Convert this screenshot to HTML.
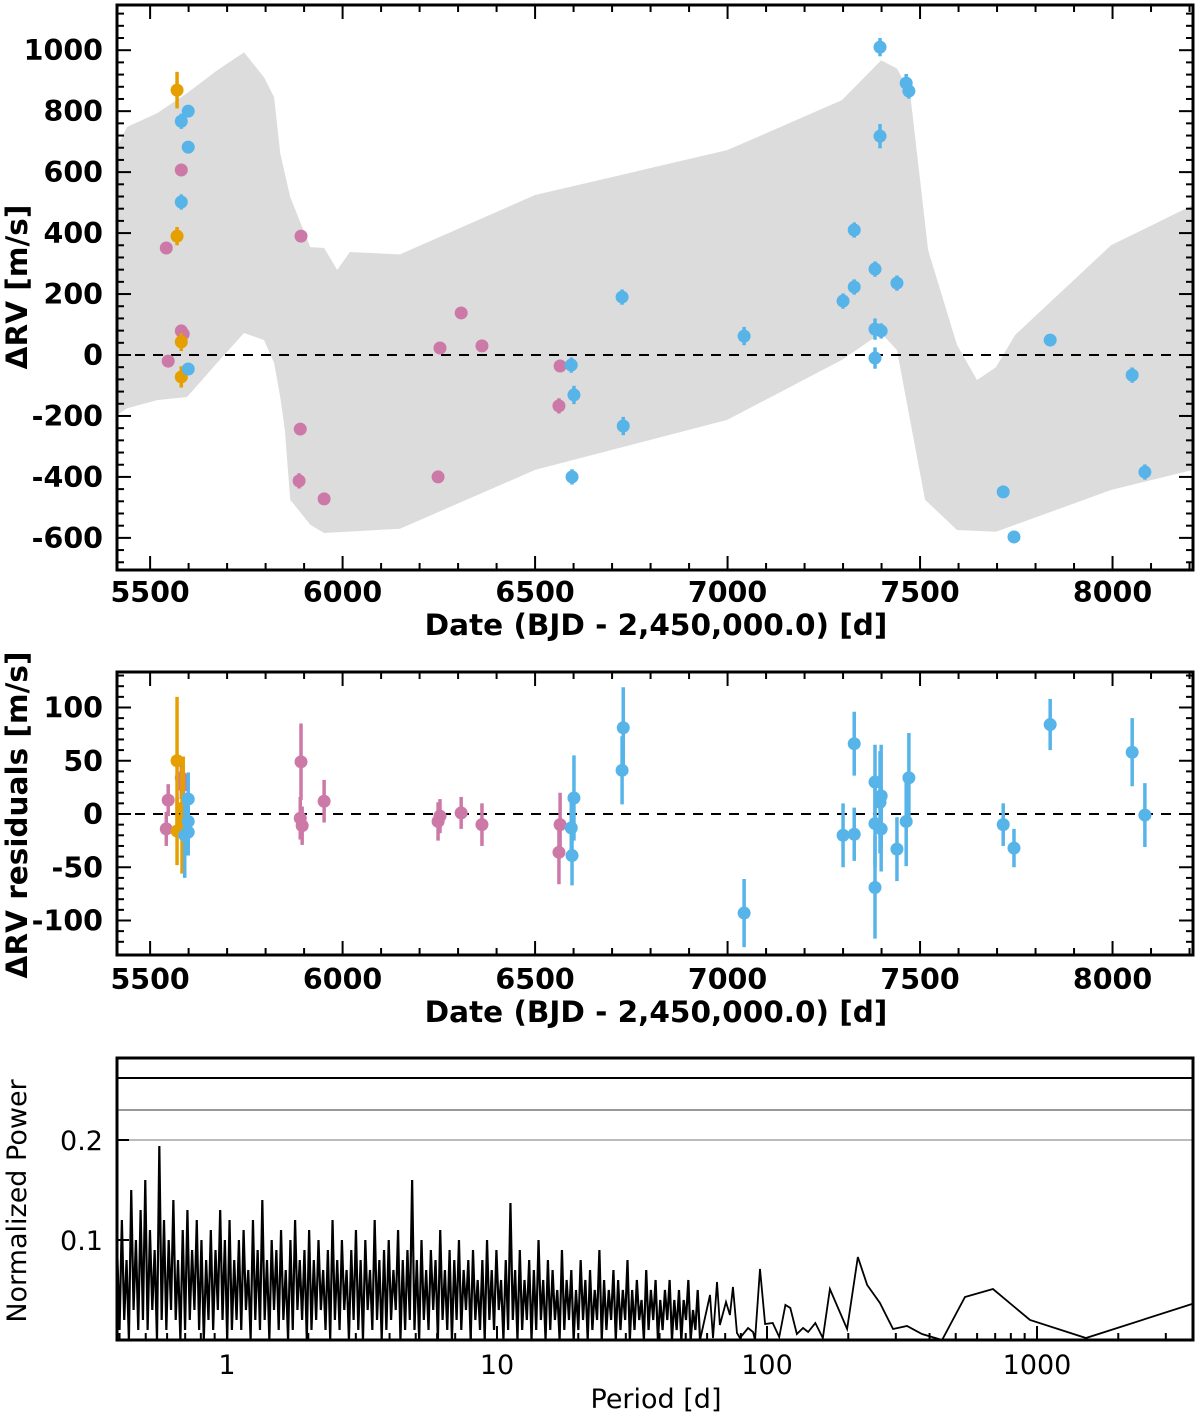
<!DOCTYPE html>
<html><head><meta charset="utf-8"><style>
html,body{margin:0;padding:0;background:#fff;}
svg{display:block;}
.tk{font-family:"DejaVu Sans","Liberation Sans",sans-serif;font-weight:bold;font-size:28.5px;fill:#000;}
.tt{font-family:"DejaVu Sans","Liberation Sans",sans-serif;font-weight:bold;font-size:29.5px;fill:#000;}
.tr{font-family:"DejaVu Sans","Liberation Sans",sans-serif;font-size:27px;fill:#000;}
</style></head><body>
<svg id="chart" width="1200" height="1422" viewBox="0 0 1200 1422" xmlns="http://www.w3.org/2000/svg">
<g id="p1"></g>
<g id="p2"></g>
<g id="p3"></g>
</svg>
<script>
// ---- Panel 1 data ----
const bandUpperDates=[5414,5440,5518,5596,5674,5744,5796,5822,5838,5864,5916,5952,5986,6019,6149,6500,6999,7297,7399,7440,7474,7521,7596,7648,7697,7747,7996,8209];
const bandUpperVals=[682,748,793,859,934,993,911,846,662,518,354,351,279,338,330,525,672,836,967,940,860,344,33,-82,-40,66,360,492];
const bandLowerDates=[5414,5440,5518,5596,5674,5744,5796,5822,5838,5850,5864,5916,5952,6149,6500,6999,7297,7399,7440,7474,7513,7596,7697,7996,8209];
const bandLowerVals=[-197,-175,-148,-138,-26,72,49,-26,-138,-246,-475,-557,-584,-570,-377,-213,-16,72,16,-213,-475,-574,-580,-443,-377];
const orangeDates=[5570,5570,5581,5581];
const orangeVals=[869,390,43,-72];
const orangeErr=[60,30,30,35];
const blueDates=[5581,5599,5599,5581,5599,6594,6601,6596,6726,6729,7043,7300,7329,7329,7383,7383,7383,7399,7396,7396,7440,7464,7471,7716,7744,7838,8051,8084];
const blueVals=[767,800,682,502,-46,-33,-131,-400,190,-233,62,177,410,223,282,85,-10,79,1010,718,236,892,866,-449,-597,49,-66,-384];
const blueErr=[25,15,20,25,15,25,30,25,25,30,30,25,25,25,25,35,35,25,30,40,25,30,25,15,10,20,25,25];
const pinkDates=[5581,5542,5581,5586,5547,5892,5890,5887,5952,6248,6253,6308,6362,6565,6562];
const pinkVals=[607,351,79,69,-20,390,-243,-413,-472,-400,23,138,30,-36,-167];
const pinkErr=[20,10,10,10,10,10,15,25,10,10,10,10,10,20,25];
// ---- Panel 2 data ----
const resOrangeDates=[5570,5586,5583,5570];
const resOrangeVals=[50,6,-6,-16];
const resOrangeErr=[60,48,50,32];
const resPinkDates=[5542,5547,5581,5586,5892,5890,5895,5952,6248,6253,6308,6362,6565,6562];
const resPinkVals=[-14,13,34,27,49,-4,-11,12,-7,-2,1,-10,-10,-36];
const resPinkErr=[16,15,20,16,36,20,18,20,18,16,15,20,30,30];
const resBlueDates=[5599,5599,5599,5590,6594,6601,6596,6726,6729,7043,7300,7329,7329,7383,7383,7383,7399,7396,7399,7440,7464,7471,7716,7744,7838,8051,8084];
const resBlueVals=[14,-7,-17,-20,-13,15,-39,41,81,-93,-20,66,-19,30,-9,-69,17,11,-14,-33,-7,34,-10,-32,84,58,-1];
const resBlueErr=[25,25,22,40,28,40,28,32,38,32,30,30,25,35,40,48,48,48,40,30,42,42,20,18,24,32,30];
// ---- Panel 3 data ----
const denseMinPeriod=0.392, denseMaxPeriod=56.5;
const densePower=[0.09,0.01,0.12,0.02,0.08,0.0,0.15,0.03,0.10,0.01,0.13,0.02,0.16,0.01,0.11,0.03,0.09,0.0,0.194,0.02,0.12,0.01,0.10,0.03,0.14,0.02,0.08,0.0,0.11,0.01,0.13,0.02,0.09,0.03,0.12,0.01,0.10,0.0,0.08,0.02,0.11,0.01,0.09,0.03,0.13,0.02,0.10,0.0,0.12,0.01,
0.08,0.02,0.10,0.01,0.11,0.03,0.07,0.0,0.12,0.02,0.09,0.01,0.14,0.02,0.08,0.0,0.10,0.03,0.09,0.01,0.11,0.02,0.07,0.0,0.10,0.01,0.12,0.03,0.08,0.02,0.09,0.0,0.11,0.01,0.08,0.02,0.10,0.03,0.07,0.01,0.09,0.0,0.12,0.02,0.08,0.01,0.10,0.03,0.07,0.0,
0.09,0.02,0.11,0.01,0.08,0.0,0.10,0.03,0.07,0.01,0.12,0.02,0.08,0.0,0.09,0.01,0.10,0.02,0.07,0.03,0.11,0.0,0.08,0.01,0.09,0.02,0.16,0.01,0.08,0.0,0.10,0.02,0.07,0.01,0.09,0.03,0.08,0.0,0.11,0.02,0.07,0.01,0.09,0.0,0.08,0.02,0.10,0.01,0.07,0.03,
0.08,0.0,0.09,0.02,0.06,0.01,0.08,0.0,0.10,0.02,0.07,0.01,0.09,0.03,0.06,0.0,0.08,0.01,0.137,0.02,0.07,0.0,0.09,0.01,0.06,0.02,0.08,0.0,0.07,0.01,0.10,0.02,0.06,0.0,0.08,0.01,0.07,0.02,0.05,0.0,0.09,0.01,0.06,0.02,0.07,0.0,0.05,0.01,0.08,0.02,
0.06,0.0,0.07,0.01,0.05,0.02,0.09,0.0,0.06,0.01,0.05,0.02,0.07,0.0,0.06,0.01,0.05,0.02,0.08,0.0,0.05,0.01,0.06,0.02,0.04,0.0,0.07,0.01,0.05,0.02,0.06,0.0,0.04,0.01,0.05,0.02,0.06,0.0,0.04,0.01,0.05,0.0,0.04,0.02,0.06,0.0,0.03,0.01,0.05,0.0];
const sparsePeriods=[61.5,63.1,65.3,66.9,70.5,72.9,74.8,77.4,79.4,85.1,88.8,90.3,94.2,98.4,105,111,117,122,129,136,142,151,161,171,198,217,235,262,293,330,375,445,541,687,942,1518,3750];
const sparsePower=[0.045,0.002,0.058,0.015,0.038,0.025,0.053,0.007,0.002,0.012,0.008,0.0,0.071,0.016,0.017,0.003,0.035,0.032,0.006,0.012,0.008,0.017,0.002,0.051,0.011,0.083,0.055,0.037,0.011,0.014,0.006,0.0,0.043,0.051,0.020,0.002,0.036];
const fapLevels=[0.262,0.230,0.200];
const fapColors=['#000','#999','#bbb'];
const NS='http://www.w3.org/2000/svg';
function mk(tag,attrs,parent){const e=document.createElementNS(NS,tag);for(const k in attrs)e.setAttribute(k,attrs[k]);parent.appendChild(e);return e;}
function txt(s,x,y,cls,parent,anchor,rot){const e=mk('text',{x:x,y:y,class:cls,'text-anchor':anchor||'middle'},parent);if(rot)e.setAttribute('transform',rot);e.textContent=s;return e;}

// ===== Panel 1 =====
const p1=document.getElementById('p1');
const L=117,R=1193;
const x1=d=>L+(d-5414)*(R-L)/(8209-5414);
const y1T=5,y1B=570;
const y1=v=>355-v*0.3048;
{
 let pts=[];
 bandUpperDates.forEach((d,i)=>pts.push(x1(d)+','+y1(bandUpperVals[i])));
 for(let i=bandLowerDates.length-1;i>=0;i--)pts.push(x1(bandLowerDates[i])+','+y1(bandLowerVals[i]));
 const band=mk('polygon',{points:pts.join(' '),fill:'#dcdcdc'},p1);
 
 
 mk('line',{x1:L,x2:R,y1:y1(0),y2:y1(0),stroke:'#000','stroke-width':2,'stroke-dasharray':'10,8'},p1);
 function series(dates,vals,errs,col,name,xf,yf,g){
  dates.forEach((d,i)=>{
   const x=xf(d),y=yf(vals[i]);
   const l=mk('line',{x1:x,x2:x,y1:yf(vals[i]+errs[i]),y2:yf(vals[i]-errs[i]),stroke:col,'stroke-width':3.5},g);
   
   
   const c=mk('circle',{cx:x,cy:y,r:6.5,fill:col},g);
   
   
  });
 }
 window.series=series;
 series(pinkDates,pinkVals,pinkErr,'#CC79A7','pink-rv',x1,y1,p1);
 series(orangeDates,orangeVals,orangeErr,'#E69F00','orange-rv',x1,y1,p1);
 series(blueDates,blueVals,blueErr,'#56B4E9','blue-rv',x1,y1,p1);
 mk('rect',{x:L,y:y1T,width:R-L,height:y1B-y1T,fill:'none',stroke:'#000','stroke-width':3},p1);
 for(let d=5500;d<=8200;d+=100){const x=x1(d),len=d%500==0?14:7;
  mk('line',{x1:x,x2:x,y1:y1B,y2:y1B-len,stroke:'#000','stroke-width':2},p1);
  mk('line',{x1:x,x2:x,y1:y1T,y2:y1T+len,stroke:'#000','stroke-width':2},p1);
  if(d%500==0)txt(String(d),x,602,'tk',p1);}
 for(let v=-680;v<=1120;v+=40){const y=y1(v);const len=v%200==0?14:7;
  mk('line',{x1:L,x2:L+len,y1:y,y2:y,stroke:'#000','stroke-width':2},p1);
  mk('line',{x1:R,x2:R-len,y1:y,y2:y,stroke:'#000','stroke-width':2},p1);
  if(v%200==0&&v>=-600&&v<=1000)txt(String(v),103,y+10,'tk',p1,'end');}
 const xl=txt('Date (BJD - 2,450,000.0) [d]',656,635,'tt',p1);
 const yl=txt('ΔRV [m/s]',27,287,'tt',p1,'middle','rotate(-90 27 287)');
}
// ===== Panel 2 =====
const p2=document.getElementById('p2');
{
 const yT=672,yB=955;const y2=v=>814-v*1.065;
 mk('line',{x1:L,x2:R,y1:y2(0),y2:y2(0),stroke:'#000','stroke-width':2,'stroke-dasharray':'10,8'},p2);
 series(resPinkDates,resPinkVals,resPinkErr,'#CC79A7','pink-residual',x1,y2,p2);
 series(resOrangeDates,resOrangeVals,resOrangeErr,'#E69F00','orange-residual',x1,y2,p2);
 series(resBlueDates,resBlueVals,resBlueErr,'#56B4E9','blue-residual',x1,y2,p2);
 mk('rect',{x:L,y:yT,width:R-L,height:yB-yT,fill:'none',stroke:'#000','stroke-width':3},p2);
 for(let d=5500;d<=8200;d+=100){const x=x1(d),len=d%500==0?14:7;
  mk('line',{x1:x,x2:x,y1:yB,y2:yB-len,stroke:'#000','stroke-width':2},p2);
  mk('line',{x1:x,x2:x,y1:yT,y2:yT+len,stroke:'#000','stroke-width':2},p2);
  if(d%500==0)txt(String(d),x,989,'tk',p2);}
 for(let v=-120;v<=130;v+=10){const y=y2(v);const len=v%50==0?14:7;
  mk('line',{x1:L,x2:L+len,y1:y,y2:y,stroke:'#000','stroke-width':2},p2);
  mk('line',{x1:R,x2:R-len,y1:y,y2:y,stroke:'#000','stroke-width':2},p2);
  if(v%50==0&&v>=-100&&v<=100)txt(String(v),103,y+10,'tk',p2,'end');}
 const xl=txt('Date (BJD - 2,450,000.0) [d]',656,1022,'tt',p2);
 const yl=txt('ΔRV residuals [m/s]',27,815,'tt',p2,'middle','rotate(-90 27 815)');
}
// ===== Panel 3 =====
const p3=document.getElementById('p3');
{
 const yT=1058,yB=1340;
 const x3=p=>227+Math.log10(p)*270;
 const y3=v=>1340-v*1000;
 fapLevels.forEach((f,i)=>{const l=mk('line',{x1:L,x2:R,y1:y3(f),y2:y3(f),stroke:fapColors[i],'stroke-width':2},p3);
  
  });
 const n=densePower.length;const a=Math.log10(denseMinPeriod),b=Math.log10(denseMaxPeriod);
 let pts=[];
 densePower.forEach((v,i)=>{const p=Math.pow(10,a+(b-a)*i/(n-1));pts.push(x3(p)+','+y3(v));});
 const dl=mk('polyline',{points:pts.join(' '),fill:'none',stroke:'#000','stroke-width':2.2,'stroke-linejoin':'bevel'},p3);
 
 
 let pts2=[pts[pts.length-1]];
 sparsePeriods.forEach((p,i)=>pts2.push(x3(p)+','+y3(sparsePower[i])));
 const pl=mk('polyline',{points:pts2.join(' '),fill:'none',stroke:'#000','stroke-width':1.8,'stroke-linejoin':'miter'},p3);
 
 
 mk('rect',{x:L,y:yT,width:R-L,height:yB-yT,fill:'none',stroke:'#000','stroke-width':3},p3);
 for(let e=-1;e<=3;e++){for(let m=1;m<10;m++){const p=m*Math.pow(10,e);const x=x3(p);if(x<L||x>R)continue;
  const len=m==1?14:7;mk('line',{x1:x,x2:x,y1:yB,y2:yB-len,stroke:'#000','stroke-width':2},p3);
  if(m==1&&e>=0)txt(String(p),x,1374,'tr',p3);}}
 [0.1,0.2].forEach(v=>{const y=y3(v);mk('line',{x1:L,x2:L+12,y1:y,y2:y,stroke:'#000','stroke-width':2},p3);txt(String(v),103,y+10,'tr',p3,'end');});
 const xl=txt('Period [d]',656,1408,'tr',p3);
 const yl=txt('Normalized Power',26,1201,'tr',p3,'middle','rotate(-90 26 1201)');
}
</script>
</body></html>
